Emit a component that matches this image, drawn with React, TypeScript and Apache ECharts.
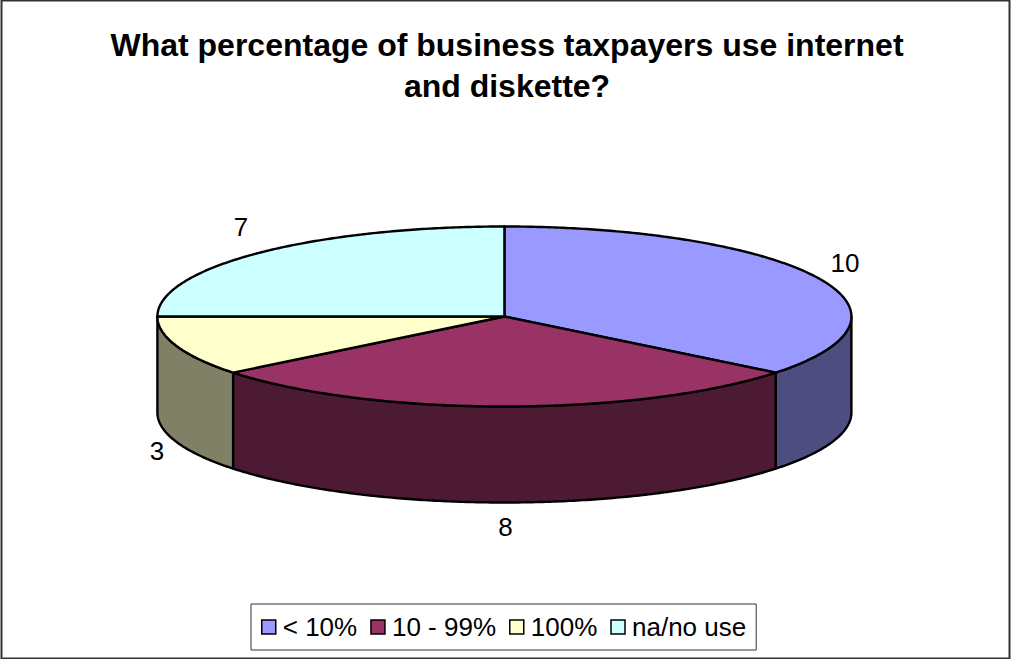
import React, { useEffect, useRef } from "react";
import * as echarts from "echarts";

const titleText = "What percentage of business taxpayers use internet\nand diskette?";
const categories = ["< 10%", "10 - 99%", "100%", "na/no use"];
const counts = [10, 8, 3, 7];

const topColors = ["#9999FF", "#993366", "#FFFFCC", "#CCFFFF"];
const sideColors = ["#4D4D80", "#4D1A33", "#808066", "#668080"];

// Projection of the tilted disc
const CX = 504.4;
const CY = 316.5;
const RX = 347;
const RY = 90;
const DEPTH = 96;

// Value labels, shifted from the rim point at each slice's middle angle
const labelShift = [
  [28, -14],
  [1, 120],
  [-20, 105],
  [-18, -26],
];

const total = counts.reduce((a, b) => a + b, 0);
const rimPoint = (angle: number, drop = 0): [number, number] => [
  CX + RX * Math.sin(angle),
  CY - RY * Math.cos(angle) + drop,
];

function arcPoints(from: number, to: number, drop = 0) {
  const steps = Math.max(2, Math.ceil(Math.abs(to - from) / 0.01));
  const pts: [number, number][] = [];
  for (let i = 0; i <= steps; i++) pts.push(rimPoint(from + ((to - from) * i) / steps, drop));
  return pts;
}

function sliceRenderer(index: number) {
  return (_params: unknown, api: any) => {
    const value = api.value(0) as number;
    const before = counts.slice(0, index).reduce((a, b) => a + b, 0);
    const start = (before / total) * Math.PI * 2;
    const end = ((before + value) / total) * Math.PI * 2;
    const mid = (start + end) / 2;
    const stroke = { stroke: "#000", lineWidth: 2.4, lineJoin: "round" };
    const children: any[] = [];

    // Only the part of the rim on the near half of the disc has a visible wall
    const wallFrom = Math.max(start, Math.PI / 2);
    const wallTo = Math.min(end, (Math.PI * 3) / 2);
    if (wallTo > wallFrom) {
      const upper = arcPoints(wallFrom, wallTo);
      const lower = arcPoints(wallTo, wallFrom, DEPTH);
      children.push({
        type: "polygon",
        z2: 1,
        shape: { points: [...upper, ...lower] },
        style: { fill: sideColors[index], ...stroke },
      });
    }
    children.push({
      type: "polygon",
      z2: 2,
      shape: { points: [[CX, CY], ...arcPoints(start, end)] },
      style: { fill: topColors[index], ...stroke },
    });
    const anchor = rimPoint(mid);
    children.push({
      type: "text",
      z2: 3,
      x: anchor[0] + labelShift[index][0],
      y: anchor[1] + labelShift[index][1],
      style: {
        text: String(value),
        fill: "#000",
        font: '26px "Liberation Sans"',
        align: "center",
        verticalAlign: "middle",
      },
    });
    return { type: "group", children };
  };
}

export default function App() {
  const ref = useRef<HTMLDivElement>(null);
  useEffect(() => {
    document.body.style.margin = "0";
    const chart = echarts.init(ref.current!, undefined, { renderer: "svg" });
    chart.setOption({
      animation: false,
      backgroundColor: "#fff",
      title: {
        text: titleText,
        left: 502,
        top: 19,
        textAlign: "center",
        textStyle: {
          fontFamily: "Liberation Sans",
          fontSize: 32,
          fontWeight: "bold",
          color: "#000",
          lineHeight: 41,
        },
      },
      legend: {
        left: 251,
        top: 604,
        orient: "horizontal",
        data: categories,
        icon: "rect",
        itemWidth: 14,
        itemHeight: 14,
        itemGap: 13,
        padding: [10, 10, 10, 10],
        borderColor: "#333",
        borderWidth: 1,
        selectedMode: false,
        itemStyle: { borderColor: "#000", borderWidth: 1.5 },
        textStyle: {
          fontFamily: "Liberation Sans",
          fontSize: 26,
          color: "#000",
          padding: [0, 0, 5, 2],
        },
      },
      graphic: [
        {
          type: "rect",
          z: -1,
          shape: { x: 1.5, y: 0.5, width: 1008, height: 658 },
          style: { fill: "none", stroke: "#333", lineWidth: 2 },
        },
      ],
      series: categories.map((name, i) => ({
        type: "custom",
        name,
        coordinateSystem: "none",
        itemStyle: { color: topColors[i] },
        renderItem: sliceRenderer(i),
        data: [[counts[i]]],
      })),
    });
    return () => chart.dispose();
  }, []);
  return <div ref={ref} style={{ width: 1011, height: 659 }} />;
}
